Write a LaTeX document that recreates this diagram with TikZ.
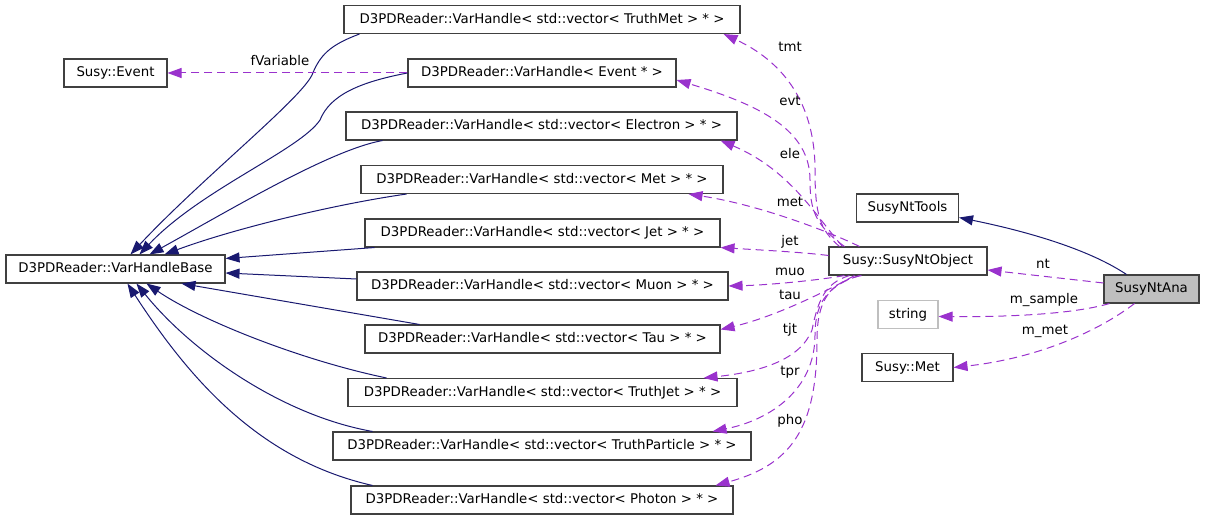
\documentclass[tikz,border=0pt]{standalone}
\usepackage{fontspec}
\setmainfont{DejaVu Sans}
\usetikzlibrary{arrows.meta,calc}
\definecolor{inhcol}{HTML}{191970}
\definecolor{relcol}{HTML}{9A32CD}
\definecolor{anafill}{HTML}{BFBFBF}
\definecolor{boxline}{HTML}{404040}
\begin{document}
\begin{tikzpicture}[x=0.75pt,y=-0.75pt,
  box/.style={draw=boxline, line width=0.8pt, minimum height=21pt, inner sep=0pt,
    text height=7.6pt, text depth=2pt, font=\fontsize{10}{12}\selectfont},
  wd/.style={minimum width=#1*0.75pt},
  inh/.style={color=inhcol, line width=0.75pt, -{Triangle[length=10.5pt,width=7.5pt]}},
  rel/.style={color=relcol, line width=0.75pt, dash pattern=on 6pt off 3.75pt, -{Triangle[length=10.5pt,width=7.5pt]}},
  lbl/.style={font=\fontsize{10}{12}\selectfont, inner sep=0pt, text height=7.6pt, text depth=2pt, text=black}]
\useasboundingbox (0,0) rectangle (1205,520);
% nodes
\node[box,wd=396] (tm) at (542,19.5) {D3PDReader::VarHandle< std::vector< TruthMet > * >};
\node[box,wd=103] (sevent) at (115.5,73) {Susy::Event};
\node[box,wd=268] (ev) at (542,73) {D3PDReader::VarHandle< Event * >};
\node[box,wd=391] (el) at (541.5,126) {D3PDReader::VarHandle< std::vector< Electron > * >};
\node[box,wd=362] (me) at (542,179.5) {D3PDReader::VarHandle< std::vector< Met > * >};
\node[box,wd=355] (je) at (542.5,233) {D3PDReader::VarHandle< std::vector< Jet > * >};
\node[box,wd=219] (base) at (115.5,269) {D3PDReader::VarHandleBase};
\node[box,wd=371] (mu) at (542.5,286) {D3PDReader::VarHandle< std::vector< Muon > * >};
\node[box,wd=355] (ta) at (542.5,339) {D3PDReader::VarHandle< std::vector< Tau > * >};
\node[box,wd=389] (tj) at (542.5,392.5) {D3PDReader::VarHandle< std::vector< TruthJet > * >};
\node[box,wd=418] (tp) at (542,446) {D3PDReader::VarHandle< std::vector< TruthParticle > * >};
\node[box,wd=382] (ph) at (542,500) {D3PDReader::VarHandle< std::vector< Photon > * >};
\node[box,wd=102] (tools) at (907.5,208) {SusyNtTools};
\node[box,wd=158] (obj) at (908,261) {Susy::SusyNtObject};
\node[box,wd=95,fill=anafill] (ana) at (1151.5,289) {SusyNtAna};
\node[box,wd=60,draw=anafill] (str) at (908,314.5) {string};
\node[box,wd=91] (smet) at (907.5,367.5) {Susy::Met};
% inheritance edges
\draw[inh] ($(tm.south west)+(16,0)$) .. controls (330,45) and (320,55) .. (312,75)
  .. controls (300,100) and (200,180) .. ($(base.north west)+(125,0)$);
\draw[inh] (ev.west) .. controls (360,82) and (330,95) .. (320,120)
  .. controls (300,150) and (200,190) .. ($(base.north west)+(134,0)$);
\draw[inh] ($(el.south west)+(37,0)$) .. controls (330,150) and (230,210) .. ($(base.north west)+(144,0)$);
\draw[inh] ($(me.south west)+(46,0)$) .. controls (330,205) and (230,230) .. ($(base.north west)+(159,0)$);
\draw[inh] ($(je.south west)+(10,0)$) -- ($(base.north east)+(0,4)$);
\draw[inh] ($(mu.west)+(0,-7)$) -- ($(base.east)+(0,4)$);
\draw[inh] ($(ta.north west)+(55,0)$) -- ($(base.south west)+(176,0)$);
\draw[inh] ($(tj.north west)+(39,0)$) .. controls (300,360) and (200,320) .. ($(base.south west)+(141,0)$);
\draw[inh] ($(tp.north west)+(40,0)$) .. controls (280,415) and (190,350) .. ($(base.south west)+(131,0)$);
\draw[inh] ($(ph.north west)+(22,0)$) .. controls (260,460) and (190,380) .. ($(base.south west)+(122,0)$);
\draw[inh] ($(ana.north west)+(23,0)$) .. controls (1090,250) and (1030,232) .. ($(tools.south east)+(0,-5)$);
% usage edges
\draw[rel] (ev.west) -- (sevent.east);
\draw[rel] ($(obj.north west)+(11,0)$) .. controls (820,230) and (815,215) .. (815,170)
  .. controls (815,100) and (780,60) .. ($(tm.south east)+(-17,0)$);
\draw[rel] ($(obj.north west)+(16,0)$) .. controls (815,225) and (810,210) .. (810,180)
  .. controls (810,130) and (760,105) .. ($(ev.east)+(0,7)$);
\draw[rel] ($(obj.north west)+(14,0)$) .. controls (815,215) and (790,170) .. ($(el.south east)+(-17,0)$);
\draw[rel] ($(obj.north west)+(31,0)$) .. controls (830,232) and (760,205) .. ($(me.south east)+(-35,0)$);
\draw[rel] ($(obj.north west)+(0,9)$) .. controls (800,252) and (760,250) .. (je.south east);
\draw[rel] ($(obj.south west)+(16,0)$) .. controls (820,280) and (770,285) .. (mu.east);
\draw[rel] ($(obj.south west)+(26,0)$) .. controls (820,295) and (770,318) .. ($(ta.north east)+(0,5)$);
\draw[rel] ($(obj.south west)+(21,0)$) .. controls (825,283) and (818,300) .. (812,330)
  .. controls (800,360) and (760,372) .. ($(tj.north east)+(-34,0)$);
\draw[rel] ($(obj.south west)+(31,0)$) .. controls (830,285) and (815,300) .. (815,335)
  .. controls (815,390) and (770,420) .. ($(tp.north east)+(-39,0)$);
\draw[rel] ($(obj.south west)+(33,0)$) .. controls (830,282) and (817,300) .. (817,340)
  .. controls (817,430) and (790,465) .. ($(ph.north east)+(-18,0)$);
\draw[rel] ($(ana.west)+(0,-6)$) -- ($(obj.east)+(0,9)$);
\draw[rel] ($(ana.south west)+(6,0)$) .. controls (1070,315) and (1000,317) .. ($(str.east)+(0,2)$);
\draw[rel] ($(ana.south west)+(31,0)$) .. controls (1100,330) and (1040,358) .. (smet.east);
% labels
\node[lbl] (lfv) at (280,62) {fVariable};
\node[lbl] (ltmt) at (790,48) {tmt};
\node[lbl] (levt) at (790,102) {evt};
\node[lbl] (lele) at (790,155) {ele};
\node[lbl] (lmet) at (790,203) {met};
\node[lbl] (ljet) at (790,242) {jet};
\node[lbl] (lmuo) at (790,272) {muo};
\node[lbl] (ltau) at (790,296) {tau};
\node[lbl] (ltjt) at (790,330) {tjt};
\node[lbl] (ltpr) at (790,372) {tpr};
\node[lbl] (lpho) at (790,421) {pho};
\node[lbl] (lnt) at (1043,265) {nt};
\node[lbl] (lms) at (1044,300) {m\_sample};
\node[lbl] (lmm) at (1045,331) {m\_met};
\end{tikzpicture}
\end{document}
